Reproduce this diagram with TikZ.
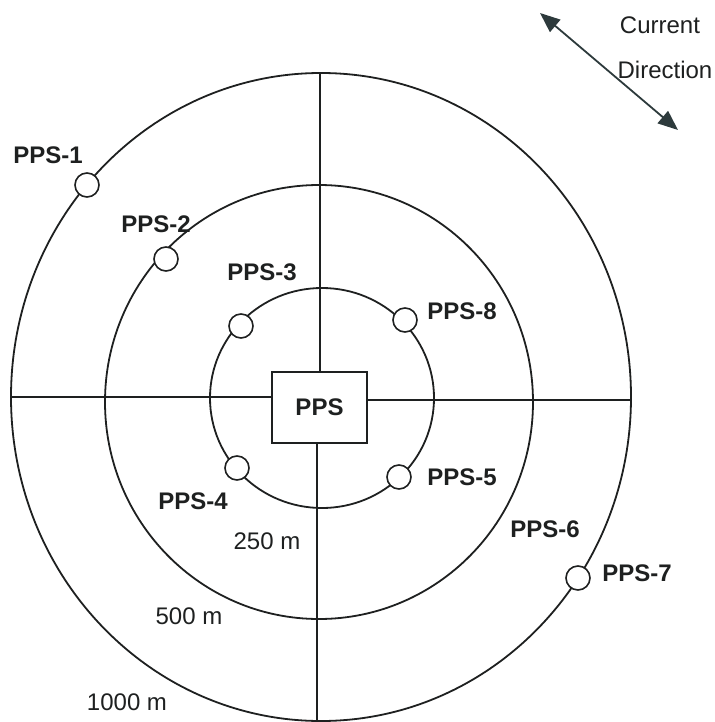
\documentclass[tikz,border=0pt]{standalone}
\usepackage{fontspec}
\setmainfont{Liberation Sans}
\usetikzlibrary{arrows.meta}
\definecolor{ink}{RGB}{30,32,32}
\definecolor{slate}{RGB}{45,58,60}

\begin{document}
\begin{tikzpicture}[x=0.5pt, y=-0.5pt,
  ring/.style={draw=ink, line width=0.9pt},
  axis/.style={draw=ink, line width=0.75pt},
  well/.style={circle, draw=ink, fill=white, line width=0.8pt, minimum size=12pt, inner sep=0pt},
  lbl/.style={font=\fontsize{12}{14}\selectfont\bfseries, text=ink, inner sep=0pt},
  dist/.style={font=\fontsize{12}{14}\selectfont, text=ink, inner sep=0pt},
]
  \useasboundingbox (0,0) rectangle (714,722);

  % rings at 250 m, 500 m and 1000 m
  \draw[ring] (321,397) circle[x radius=155pt, y radius=162pt];
  \draw[ring] (319,402) circle[x radius=107pt, y radius=108.5pt];
  \draw[ring] (322,398) circle[x radius=56pt, y radius=55pt];

  % central platform
  \node[draw=ink, line width=0.8pt, minimum width=47.5pt, minimum height=35.5pt,
        font=\fontsize{12}{14}\selectfont\bfseries, text=ink] (pps) at (319.5,407.5) {PPS};

  \coordinate (top) at (320,73);
  \coordinate (bottom) at (317,721);
  \coordinate (left) at (12,397);
  \coordinate (right) at (631,400);
  \draw[axis] (top) -- (pps.north -| top);
  \draw[axis] (pps.south -| bottom) -- (bottom);
  \draw[axis] (left) -- (pps.west |- left);
  \draw[axis] (pps.east |- right) -- (right);

  % sampling stations
  \node[well] (s1) at (87,185) {};
  \node[well] (s2) at (166,259) {};
  \node[well] (s3) at (241,326) {};
  \node[well] (s4) at (237,468) {};
  \node[well] (s5) at (399,477) {};
  \node[well] (s7) at (578,578) {};
  \node[well] (s8) at (405,320) {};

  \node[lbl] (l1) at (48,155) {PPS-1};
  \node[lbl] (l2) at (156,224) {PPS-2};
  \node[lbl] (l3) at (262,272) {PPS-3};
  \node[lbl] (l4) at (193,501) {PPS-4};
  \node[lbl] (l5) at (462,477) {PPS-5};
  \node[lbl] (l6) at (545,529) {PPS-6};
  \node[lbl] (l7) at (637,573) {PPS-7};
  \node[lbl] (l8) at (462,311) {PPS-8};

  \node[dist] (d250) at (267,541) {250 m};
  \node[dist] (d500) at (189,616) {500 m};
  \node[dist] (d1000) at (127,702) {1000 m};

  % current direction
  \coordinate (cur1) at (540,13);
  \coordinate (cur2) at (678,130);
  \draw[slate, line width=0.9pt, {Triangle[length=10pt,width=8pt]}-{Triangle[length=10pt,width=8pt]}] (cur1) -- (cur2);
  \node[dist] (current) at (660,25) {Current};
  \node[dist] (direction) at (665,70) {Direction};
\end{tikzpicture}
\end{document}
